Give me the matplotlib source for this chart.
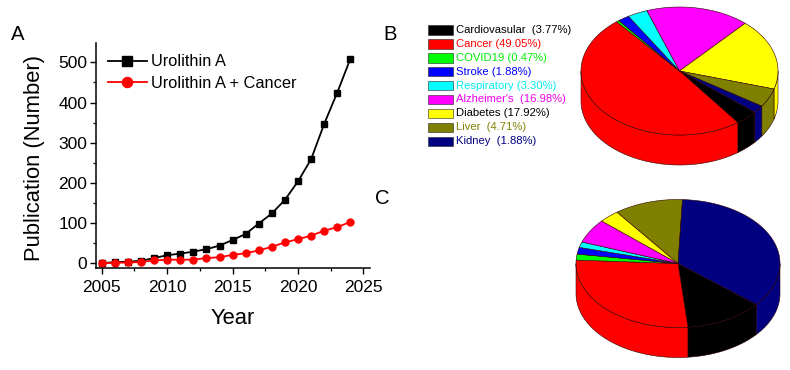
import numpy as np
import matplotlib
matplotlib.use("Agg")
import matplotlib.pyplot as plt
from matplotlib.patches import Polygon, Rectangle
from matplotlib.ticker import MultipleLocator

YEARS = list(range(2005, 2025))
UROLITHIN_A = [0, 3, 4, 6, 13, 20, 24, 29, 35, 44, 58, 73, 99, 124, 158, 204, 259, 347, 425, 509]
UROLITHIN_A_CANCER = [0, 1, 2, 3, 7, 9, 9, 9, 13, 15, 21, 25, 32, 41, 52, 60, 69, 81, 90, 103]

SHARES_B = [3.77, 49.05, 0.47, 1.88, 3.30, 16.98, 17.92, 4.71, 1.88]
SHARES_C = [12.4, 27.4, 1.5, 1.7, 1.4, 6.1, 3.25, 10.9, 35.35]
LEGEND_TEXT = ["Cardiovasular  (3.77%)", "Cancer (49.05%)", "COVID19 (0.47%)", "Stroke (1.88%)",
               "Respiratory (3.30%)", "Alzheimer's  (16.98%)", "Diabetes (17.92%)",
               "Liver  (4.71%)", "Kidney  (1.88%)"]
PIE_COLORS = ["#000000", "#ff0000", "#00ff00", "#0000ff", "#00ffff",
              "#ff00ff", "#ffff00", "#808000", "#000080"]
TEXT_COLORS = ["#000000", "#ff0000", "#00ee00", "#0000ff", "#00eeee",
               "#ee00ee", "#000000", "#808000", "#000080"]

W, H = 790, 370
plt.rcParams["font.family"] = ["Liberation Sans", "DejaVu Sans"]


def draw_pie(ax, shares, start, cx, cy, rx, ry, depth):
    # angles run clockwise on screen from east, y axis of ax is flipped
    edges = start + np.cumsum([0] + shares) / sum(shares) * 360
    for color, a0, a1 in zip(PIE_COLORS, edges[:-1], edges[1:]):
        for off in (0, -360):
            lo, hi = max(a0 + off, 0), min(a1 + off, 180)
            if hi <= lo:
                continue
            t = np.radians(np.linspace(lo, hi, 60))
            x = cx + rx * np.cos(t)
            y = cy + ry * np.sin(t)
            pts = np.r_[np.c_[x, y], np.c_[x[::-1], y[::-1] + depth]]
            ax.add_patch(Polygon(pts, fc=color, ec="#300000", lw=0.4, zorder=2))
    for color, a0, a1 in zip(PIE_COLORS, edges[:-1], edges[1:]):
        t = np.radians(np.linspace(a0, a1, 120))
        pts = np.r_[[[cx, cy]], np.c_[cx + rx * np.cos(t), cy + ry * np.sin(t)]]
        ax.add_patch(Polygon(pts, fc=color, ec="#300000", lw=0.4, zorder=3))


fig = plt.figure(figsize=(W / 100, H / 100), dpi=100)

# panel A
ax = fig.add_axes([95.7 / W, 1 - 267.7 / H, 274.3 / W, 225 / H])
ax.plot(YEARS, UROLITHIN_A, "-s", color="black", lw=1.3, ms=4.6, label="Urolithin A", clip_on=False)
ax.plot(YEARS, UROLITHIN_A_CANCER, "-o", color="#ff0000", lw=1.3, ms=5.0, label="Urolithin A + Cancer", clip_on=False)
ax.set_xlim(2004.54, 2025.5)
ax.set_ylim(-11, 549)
ax.spines["top"].set_visible(False)
ax.spines["right"].set_visible(False)
ax.spines["left"].set_linewidth(1.1)
ax.spines["bottom"].set_linewidth(1.1)
ax.xaxis.set_major_locator(MultipleLocator(5))
ax.xaxis.set_minor_locator(MultipleLocator(2.5))
ax.yaxis.set_major_locator(MultipleLocator(100))
ax.yaxis.set_minor_locator(MultipleLocator(50))
ax.tick_params(which="major", length=4.5, width=1.0, labelsize=12.5)
ax.tick_params(which="minor", length=2.5, width=0.9)
ax.tick_params(axis="x", which="major", pad=4.5)
ax.tick_params(axis="y", which="major", pad=1.5)
ax.set_xlabel("Year", fontsize=15.8, labelpad=9.5)
ax.set_ylabel("Publication (Number)", fontsize=15.8)
ax.yaxis.set_label_coords(-0.186, 0.4876)
ax.legend(loc="upper left", bbox_to_anchor=(108 / W, 1 - 54.5 / H), bbox_transform=fig.transFigure,
          frameon=False, fontsize=11.8, handlelength=2.35, handletextpad=0.3, labelspacing=0.4,
          borderpad=0, borderaxespad=0, markerscale=1.45)

# panels B and C, drawn on an overlay in pixel units
ov = fig.add_axes([0, 0, 1, 1])
ov.set_xlim(0, W)
ov.set_ylim(H, 0)
ov.axis("off")
ov.patch.set_alpha(0)

draw_pie(ov, SHARES_B, 40.1, 679.5, 71, 98.5, 64, 30)
draw_pie(ov, SHARES_C, 39.8, 678, 263.5, 102, 64, 30)

for i, (label, color, tcolor) in enumerate(zip(LEGEND_TEXT, PIE_COLORS, TEXT_COLORS)):
    y = 30 + i * 13.9
    ov.add_patch(Rectangle((428, y - 4.7), 25, 9.4, fc=color, ec="#222222", lw=0.4))
    ov.text(456.5, y, label, color=tcolor, fontsize=8.1, va="center", ha="left")

ov.text(10.5, 35, "A", fontsize=14.6, va="center", ha="left")
ov.text(383, 35, "B", fontsize=14.6, va="center", ha="left")
ov.text(375, 198.5, "C", fontsize=14.6, va="center", ha="left")

fig.savefig("out.png", dpi=100)
